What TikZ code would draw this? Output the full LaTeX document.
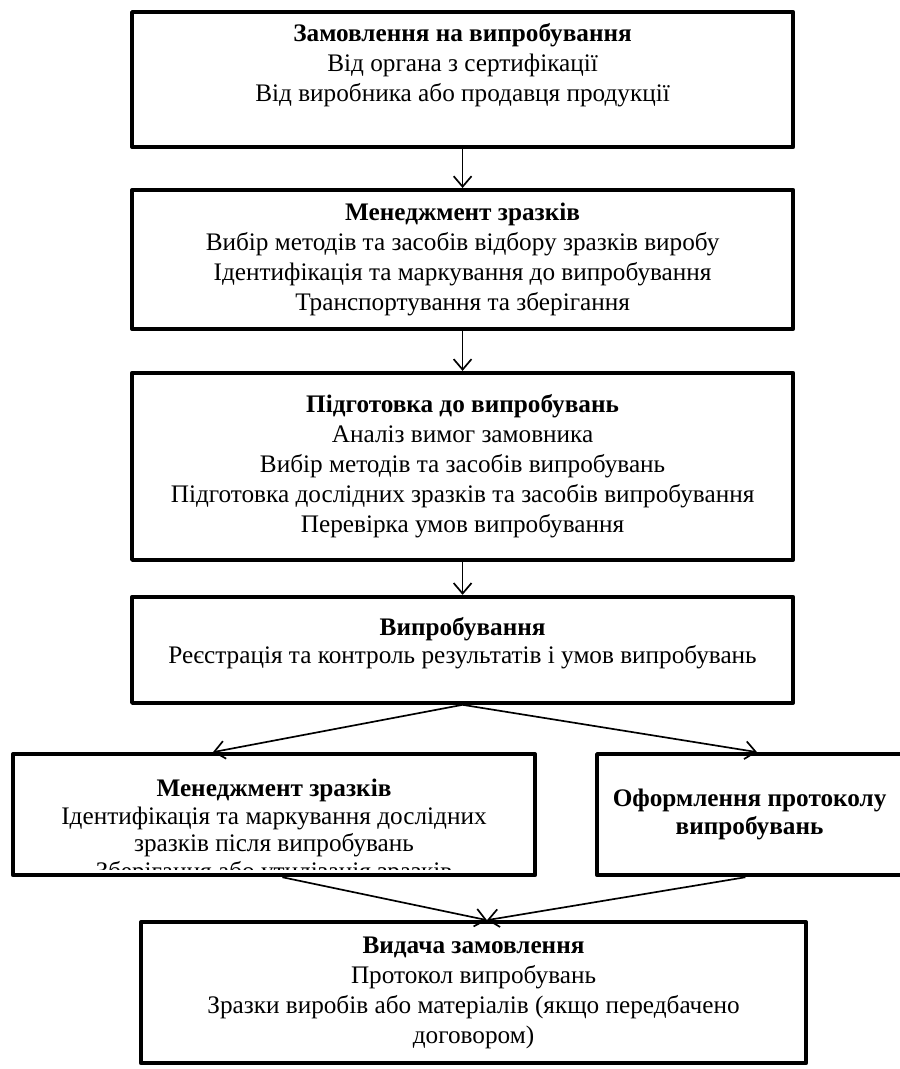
\documentclass[tikz,border=0pt]{standalone}
\usepackage{fontspec}
\setmainfont{Liberation Serif}
\usetikzlibrary{arrows.meta,positioning,calc}

\begin{document}
\begin{tikzpicture}[
  font=\fontsize{12}{14.3}\selectfont,
  block/.style={draw, line width=1.9pt, line join=round, align=center, minimum width=314.4pt, inner sep=2pt},
  arrow/.style={-{Straight Barb[length=5pt,width=8.5pt]}, line width=0.8pt},
  node distance=19pt
]
\useasboundingbox (0,0) rectangle (428pt,-508.4pt);
\node[block, minimum height=64.2pt, text depth=16.4pt, anchor=north] (order) at (220pt,-4.8pt) {\textbf{Замовлення на випробування}\\Від органа з сертифікації\\Від виробника або продавця продукції};
\node[block, minimum height=66.1pt, below=18.5pt of order] (samples) {\textbf{Менеджмент зразків}\\Вибір методів та засобів відбору зразків виробу\\Ідентифікація та маркування до випробування\\Транспортування та зберігання};
\node[block, minimum height=88.9pt, below=of samples] (prep) {\textbf{Підготовка до випробувань}\\Аналіз вимог замовника\\Вибір методів та засобів випробувань\\Підготовка дослідних зразків та засобів випробування\\Перевірка умов випробування};
\node[block, minimum height=50.4pt, text depth=8.8pt, below=15.7pt of prep, font=\fontsize{12}{13}\selectfont] (testing) {\textbf{Випробування}\\Реєстрація та контроль результатів і умов випробувань};
\node[block, minimum width=248.3pt, minimum height=57.6pt, anchor=north west] (aftersamples) at (5.2pt,-357.7pt) {};
\node[block, minimum width=145.1pt, minimum height=57.6pt, anchor=north west, font=\fontsize{12}{13.5}\selectfont\bfseries] (report) at (283pt,-357.7pt) {Оформлення протоколу\\випробувань};
\node[block, minimum width=316.3pt, minimum height=67.1pt, anchor=north west] (issue) at (66.1pt,-437.6pt) {\textbf{Видача замовлення}\\Протокол випробувань\\Зразки виробів або матеріалів (якщо передбачено\\договором)};

\begin{scope}
\clip ([shift={(2pt,-2pt)}]aftersamples.north west) rectangle ([shift={(-2pt,3.8pt)}]aftersamples.south east);
\node[align=center, inner sep=0pt, anchor=north, font=\fontsize{12}{13.2}\selectfont] (aftertext) at ([yshift=-12.5pt]aftersamples.north) {\textbf{Менеджмент зразків}\\Ідентифікація та маркування дослідних\\зразків після випробувань\\Зберігання або утилізація зразків};
\end{scope}

\draw[arrow] (order) -- (samples);
\draw[arrow] (samples) -- (prep);
\draw[arrow] (prep) -- (testing);
\draw[arrow] (testing.south) -- ($(aftersamples.north west)!0.384!(aftersamples.north east)$);
\draw[arrow] (testing.south) -- ($(report.north west)!0.524!(report.north east)$);
\draw[arrow] ([xshift=4pt]aftersamples.south) -- ([xshift=6.4pt]issue.north);
\draw[arrow] ([xshift=-2pt]report.south) -- ([xshift=6.4pt]issue.north);
\end{tikzpicture}
\end{document}
